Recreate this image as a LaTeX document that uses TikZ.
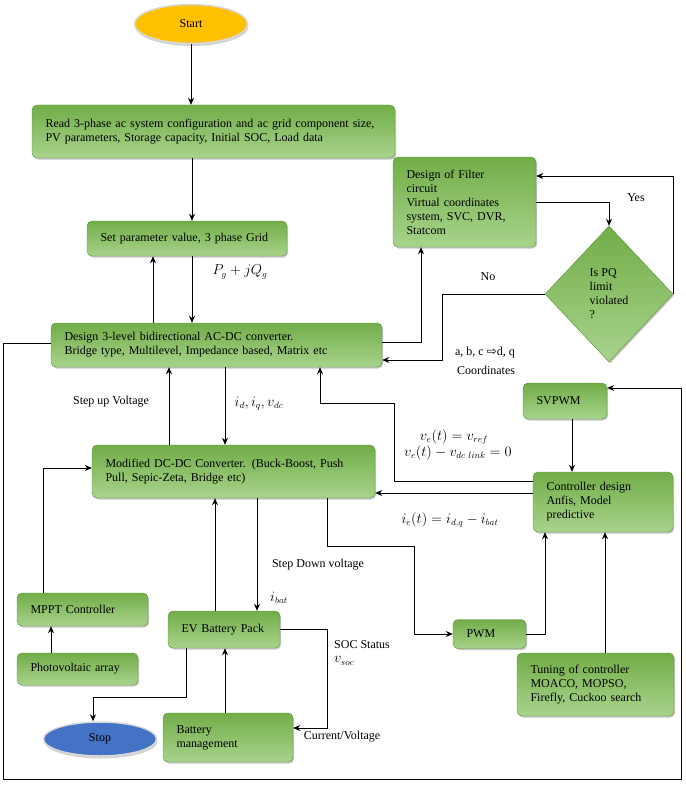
\documentclass[tikz,border=0pt]{standalone}
\usepackage{fontspec}
\setmainfont{Liberation Serif}
\newfontfamily\symfont{DejaVu Sans}
\usetikzlibrary{shapes.geometric,shadows,arrows.meta}
\definecolor{boxtop}{HTML}{72AD48}
\definecolor{boxbot}{HTML}{A8D38C}
\definecolor{boxline}{HTML}{5A9638}
\definecolor{startfill}{HTML}{FFC000}
\definecolor{stopfill}{HTML}{4472C4}
\begin{document}
\begin{tikzpicture}[x=1pt, y=-1pt, font=\fontsize{12}{14}\selectfont, line join=round, >={Stealth[length=7pt,width=6pt]},
  box/.style 2 args={rectangle, rounded corners=5pt, draw=boxline, top color=boxtop, bottom color=boxbot,
    drop shadow={opacity=0.45, shadow xshift=1.2pt, shadow yshift=-1.5pt},
    align=left, inner xsep=13.5pt, inner ysep=2pt, text width=#1, minimum height=#2},
  term/.style={ellipse, draw=white!85!black, line width=1.5pt, minimum width=113pt,
    drop shadow={opacity=0.35, shadow xshift=1pt, shadow yshift=-2.5pt}},
  flow/.style={->, line width=1pt},
  mlbl/.style={font=\fontsize{13.5}{15}\selectfont}]
 \useasboundingbox (0,0) rectangle (685,789);
 % terminals
 \node[term, fill=startfill, minimum height=39pt] (start) at (191,24) {Start};
 \node[term, fill=stopfill, minimum height=34pt] (stop) at (100,739) {Stop};
 % process boxes
 \node[box={336pt}{53pt}] (read) at (213.5,131.5) {Read 3-phase ac system configuration and ac grid component size,\\PV parameters, Storage capacity, Initial SOC, Load data};
 \node[box={173pt}{35pt}] (setp) at (187,238.5) {Set parameter value, 3 phase Grid};
 \node[box={304pt}{44pt}] (acdc) at (216.5,345) {Design 3-level bidirectional AC-DC converter.\\Bridge type, Multilevel, Impedance based, Matrix etc};
 \node[box={256pt}{53pt}] (dcdc) at (233.5,471.5) {Modified DC-DC Converter. (Buck-Boost, Push\\Pull, Sepic-Zeta, Bridge etc)};
 \node[box={116pt}{90pt}] (filt) at (464.5,202) {Design of Filter\\circuit\\Virtual coordinates\\system, SVC, DVR,\\Statcom};
 \node[diamond, draw=boxline, top color=boxtop, bottom color=boxbot, align=left, inner sep=0pt,
   minimum width=128pt, minimum height=136pt,
   drop shadow={opacity=0.45, shadow xshift=1.2pt, shadow yshift=-1.5pt}] (pq) at (609,294) {Is PQ\\limit\\violated\\?};
 \node[box={57pt}{36pt}] (svpwm) at (565,401) {SVPWM};
 \node[box={113pt}{60pt}] (ctrl) at (603,502) {Controller design\\Anfis, Model\\predictive};
 \node[box={46pt}{29pt}] (pwm) at (489.5,634) {PWM};
 \node[box={130pt}{63pt}] (tune) at (595.5,684.5) {Tuning of controller\\MOACO, MOPSO,\\Firefly, Cuckoo search};
 \node[box={104pt}{33pt}] (mppt) at (82.5,609.5) {MPPT Controller};
 \node[box={94pt}{32pt}] (pv) at (77.5,669) {Photovoltaic array};
 \node[box={85pt}{37pt}] (ev) at (224,629.5) {EV Battery Pack};
 \node[box={103pt}{49pt}] (bms) at (228,737.5) {Battery\\management};
 % connectors
 \draw[flow] (start.south) -- (start.south |- read.north);
 \draw[flow] (read.south -| 192,0) -- (setp.north -| 192,0);
 \draw[flow] (setp.south -| 192,0) -- (acdc.north -| 192,0);
 \draw[flow] (acdc.north -| 153,0) -- (setp.south -| 153,0);
 \draw[flow] (acdc.south -| 225,0) -- (dcdc.north -| 225,0);
 \draw[flow] (dcdc.north -| 169,0) -- (acdc.south -| 169,0);
 \draw[flow] (acdc.east |- 0,342) -| (filt.south -| 421,0);
 \draw[flow] (filt.east) -| (pq.north);
 \draw[flow] (pq.east) |- (filt.east |- 0,176);
 \draw[flow] (pq.west) -| (442,360) -- (acdc.east |- 0,360);
 \draw[flow] (svpwm.south -| 572,0) -- (ctrl.north -| 572,0);
 \draw[flow] (ctrl.west |- 0,481) -| (394,403) -| (acdc.south -| 320,0);
 \draw[flow] (ctrl.west |- 0,493) -- (dcdc.east |- 0,493);
 \draw[flow] (dcdc.south -| 327,0) |- (414,546) |- (pwm.west);
 \draw[flow] (pwm.east) -| (ctrl.south -| 545,0);
 \draw[flow] (tune.north -| 605,0) -- (ctrl.south -| 605,0);
 \draw[flow] (acdc.west |- 0,343) -| (3,779) -| (681,388) -- (svpwm.east |- 0,388);
 \draw[flow] (dcdc.south -| 257,0) -- (ev.north -| 257,0);
 \draw[flow] (ev.north -| 215,0) -- (dcdc.south -| 215,0);
 \draw[flow] (mppt.north -| 43,0) |- (dcdc.west |- 0,468);
 \draw[flow] (pv.north -| 51,0) -- (mppt.south -| 51,0);
 \draw[flow] (bms.north -| 225,0) -- (ev.south -| 225,0);
 \draw[flow] (ev.east) -| (327,728) -- (bms.east |- 0,728);
 \draw[flow] (ev.south -| 186,0) |- (93,697) -- (stop.north -| 93,0);
 % labels
 \node[mlbl] (lpq) at (240,272) {$P_g + jQ_g$};
 \node (lup) at (111,402) {Step up Voltage};
 \node[mlbl] (lidq) at (259,404) {$i_d, i_q, v_{dc}$};
 \node (lno) at (488,277) {No};
 \node (lyes) at (636,198) {Yes};
 \node (labc) at (485,353) {a, b, c {\symfont ⇨}d, q};
 \node (lcrd) at (486,370) {Coordinates};
 \node[mlbl] (lve) at (454,437) {$v_e(t) = v_{ref}$};
 \node[mlbl] (lvdc) at (458,453) {$v_e(t) - v_{dc\ link} = 0$};
 \node[mlbl] (lie) at (450,520) {$i_e(t) = i_{d,q} - i_{bat}$};
 \node (ldown) at (318,565) {Step Down voltage};
 \node[mlbl] (libat) at (279,598) {$i_{bat}$};
 \node[align=left] (lsoc) at (362,653) {SOC Status\\\fontsize{13.5}{15}\selectfont$v_{soc}$};
 \node (lcv) at (342,737) {Current/Voltage};
\end{tikzpicture}
\end{document}
